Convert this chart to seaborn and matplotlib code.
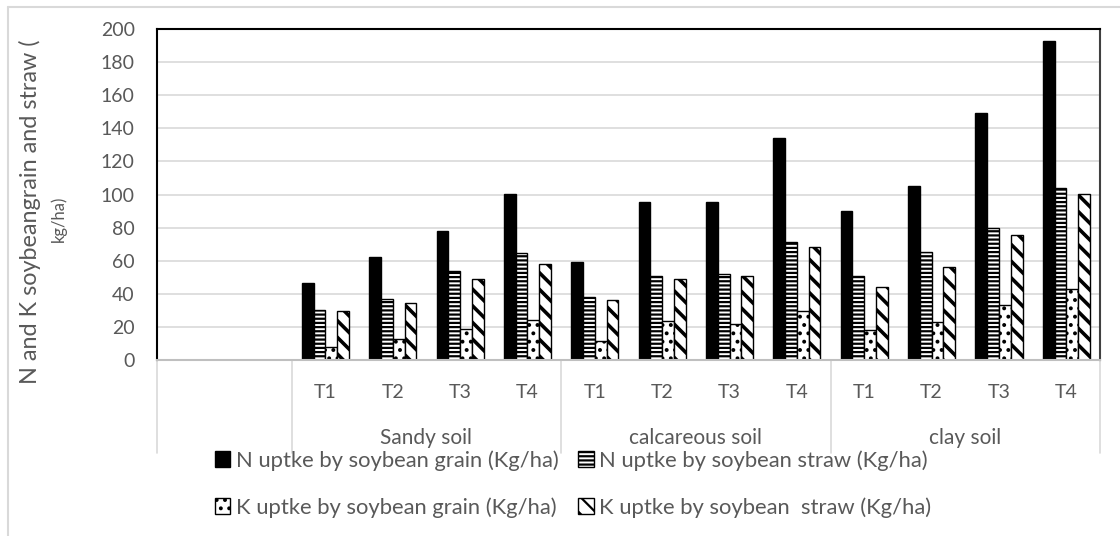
import matplotlib
matplotlib.use('Agg')
import matplotlib.pyplot as plt
from matplotlib.patches import Patch
import seaborn as sns
import pandas as pd

# values
soils = ['Sandy soil', 'calcareous soil', 'clay soil']
treatments = ['T1', 'T2', 'T3', 'T4']
series = ['N uptke by soybean grain (Kg/ha)', 'N uptke by soybean straw (Kg/ha)',
          'K uptke by soybean grain (Kg/ha)', 'K uptke by soybean  straw (Kg/ha)']

n_grain = [46.5, 62, 78, 100.5, 59.5, 95.5, 95.5, 134, 90, 105, 149.5, 192.5]
n_straw = [30.5, 37, 54, 64.8, 38, 51, 52, 71, 51, 65, 79.5, 103.8]
k_grain = [8, 12.5, 18.5, 24, 11.3, 23.5, 22, 29.8, 18, 23, 33.3, 43]
k_straw = [29.8, 34.5, 49, 58, 36.5, 49, 51, 68, 44, 56.3, 75.8, 100.6]

hatches = ['', '----', '..', '\\\\']
grey = '#595959'

sns.set_style('white')
plt.rcParams['font.family'] = ['Lato', 'DejaVu Sans']
plt.rcParams['hatch.linewidth'] = 1.6

# long table, two empty category slots in front like the excel sheet
cats = [s + '|' + t for s in soils for t in treatments]
rows = []
for name, vals in zip(series, [n_grain, n_straw, k_grain, k_straw]):
    for c, v in zip(cats, vals):
        rows.append({'cat': c, 'series': name, 'value': v})
df = pd.DataFrame(rows)
order = ['_e1', '_e2'] + cats

fig = plt.figure(figsize=(11.2, 5.36), dpi=100)
ax = fig.add_axes([157/1120, 1-360/536, (1100-157)/1120, 331/536])

sns.barplot(data=df, x='cat', y='value', hue='series', order=order, hue_order=series,
            width=0.7, palette=['black', 'white', 'white', 'white'],
            edgecolor='black', linewidth=1, ax=ax, legend=False)

for k, (cont, h) in enumerate(zip(ax.containers, hatches)):
    for p in cont:
        p.set_hatch(h)
        # thicker diagonal bands like the excel pattern
        if k == 3 and hasattr(p, 'set_hatch_linewidth'):
            p.set_hatch_linewidth(2.6)

ax.set_xlim(-0.5, len(order) - 0.5)
ax.set_ylim(0, 200)
ax.set_yticks(range(0, 201, 20))
ax.yaxis.grid(True, color='#d9d9d9', lw=1.2)
ax.set_axisbelow(True)
ax.tick_params(axis='both', length=0, colors=grey, labelsize=14)
ax.tick_params(axis='y', pad=16)
ax.set_xticks(range(len(order)))
ax.set_xticklabels(['', ''] + treatments * 3)
ax.tick_params(axis='x', pad=17)
ax.set_xlabel('')
ax.set_ylabel('')

for side in ['left', 'top', 'right']:
    ax.spines[side].set_color('black')
    ax.spines[side].set_linewidth(1.5)
ax.spines['right'].set_color('#404040')
ax.spines['bottom'].set_color('#bfbfbf')
ax.spines['bottom'].set_linewidth(1.5)

# multi-level category axis: separators and group names
trans = ax.get_xaxis_transform()
for x in [-0.5, 1.5, 5.5, 9.5, 13.5]:
    ax.plot([x, x], [0, -93/331], transform=trans, color='#d9d9d9', lw=1.2, clip_on=False)
for i, s in enumerate(soils):
    ax.text(3.5 + 4*i, -(438-360)/331, s, transform=trans, ha='center', va='center',
            fontsize=15, color=grey)

# y axis title, big part plus a small second line
fig.text(30/1120, 1-212/536, 'N and K soybeangrain and straw (', rotation=90,
         ha='center', va='center', fontsize=16.8, color=grey)
fig.text(59/1120, 1-219/536, 'kg/ha)', rotation=90, ha='center', va='center',
         fontsize=12, color=grey)

# light chart-area border
fig.add_artist(plt.Line2D([8/1120, 8/1120], [0, 1-7/536], color='#d9d9d9', lw=1.5))
fig.add_artist(plt.Line2D([8/1120, 1], [1-7/536, 1-7/536], color='#d9d9d9', lw=1.5))

handles = [Patch(facecolor=fc, edgecolor='black', hatch=h, lw=1)
           for fc, h in zip(['black', 'white', 'white', 'white'], hatches)]
idx = [0, 2, 1, 3]
leg = fig.legend([handles[i] for i in idx], [series[i] for i in idx], ncol=2,
                 loc='upper left', bbox_to_anchor=(215/1120, 1-450/536),
                 frameon=False, fontsize=15.8, handlelength=0.7, handleheight=0.7,
                 handletextpad=0.25, columnspacing=0.9, labelspacing=1.2,
                 borderpad=0, borderaxespad=0)
for t in leg.get_texts():
    t.set_color(grey)

plt.savefig('out.png', dpi=100)
